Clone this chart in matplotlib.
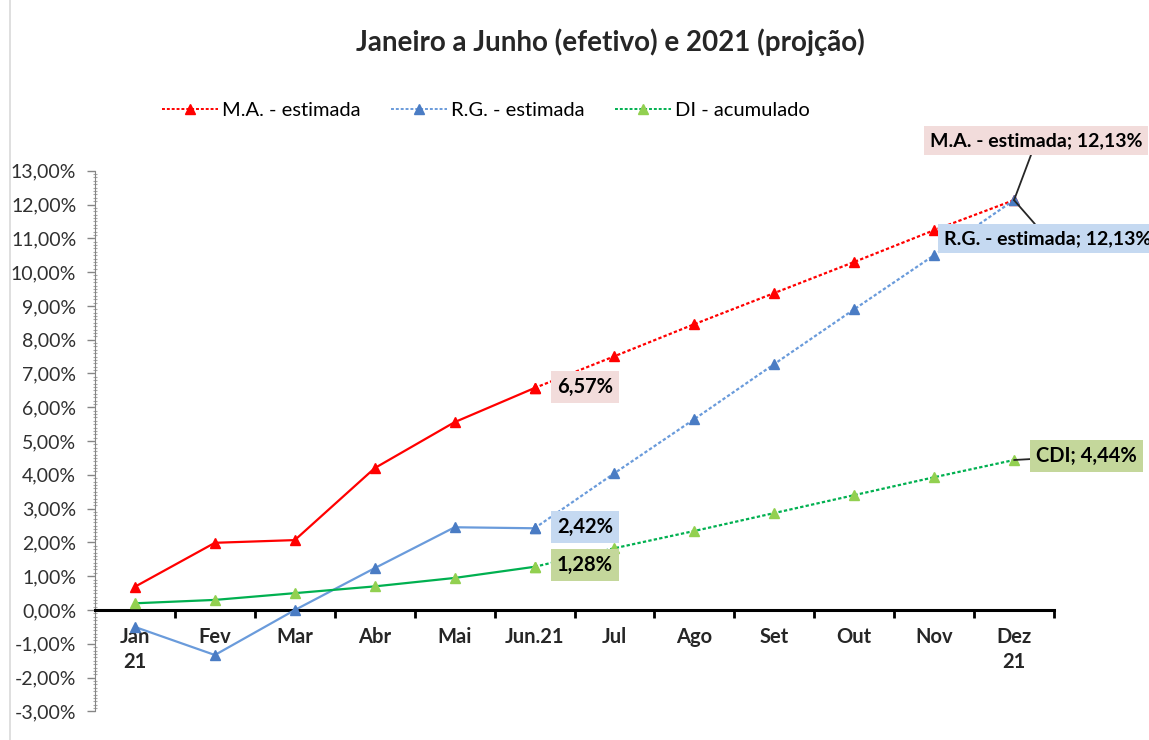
import matplotlib
matplotlib.use("Agg")
import matplotlib.pyplot as plt
from matplotlib.lines import Line2D
from matplotlib.patches import Rectangle
from matplotlib.ticker import FuncFormatter, MultipleLocator

plt.rcParams['font.family'] = ['Lato', 'DejaVu Sans']

# dados (% acumulado)
meses = ['Jan\n21', 'Fev', 'Mar', 'Abr', 'Mai', 'Jun.21', 'Jul', 'Ago', 'Set', 'Out', 'Nov', 'Dez\n21']
ma_estimada = [0.69, 1.99, 2.07, 4.20, 5.56, 6.57, 7.51, 8.46, 9.38, 10.30, 11.24, 12.13]
rg_estimada = [-0.50, -1.33, 0.00, 1.24, 2.45, 2.42, 4.05, 5.65, 7.28, 8.90, 10.50, 12.13]
di_acumulado = [0.20, 0.30, 0.50, 0.70, 0.95, 1.28, 1.83, 2.34, 2.87, 3.40, 3.93, 4.44]
ultimo_efetivo = 5  # Jun.21

series = [
    ('M.A. - estimada', ma_estimada, '#FF0000', '#FF0000', '#F2DCDB'),
    ('R.G. - estimada', rg_estimada, '#6A9BDB', '#4A7CC4', '#C5D9F1'),
    ('DI - acumulado', di_acumulado, '#00B050', '#92D050', '#C4D79B'),
]


def pct(v):
    return f'{v:.2f}%'.replace('.', ',')


fig = plt.figure(figsize=(11.49, 7.40), dpi=100)
ax = fig.add_axes([95 / 1149, 0.0386, (1054 - 95) / 1149, 0.7693 - 0.0386])

x = list(range(len(meses)))
k = ultimo_efetivo
handles = []
for nome, vals, cor_linha, cor_marc, _ in series:
    # efetivo (linha cheia)
    ax.plot(x[:k + 1], vals[:k + 1], color=cor_linha, lw=1.6, marker='^', ms=7,
            mfc=cor_marc, mec=cor_marc, zorder=3)
    # projeção (pontilhado)
    ax.plot(x[k:], vals[k:], color=cor_linha, lw=1.6, ls=(0, (1.5, 1)), marker='^', ms=7,
            mfc=cor_marc, mec=cor_marc, zorder=3)
    handles.append(Line2D([], [], color=cor_linha, lw=1.4, ls=(0, (1.5, 1)), marker='^', ms=7,
                          mfc=cor_marc, mec=cor_marc, label=nome))

ax.set_xlim(-0.5, 11.5)
ax.set_ylim(-3, 13)

# eixo y
ax.yaxis.set_major_locator(MultipleLocator(1))
ax.yaxis.set_minor_locator(MultipleLocator(0.1))
ax.yaxis.set_major_formatter(FuncFormatter(lambda v, p: pct(v)))
ax.tick_params(axis='y', which='major', length=6, width=1, color='#868686',
               labelsize=14, labelcolor='#303030', pad=7.5)
ax.tick_params(axis='y', which='minor', length=3, width=0.8, color='#A6A6A6', direction='inout')

# eixo x em zero
ax.spines['bottom'].set_position(('data', 0))
ax.spines['bottom'].set_color('black')
ax.spines['bottom'].set_linewidth(2.2)
ax.spines['left'].set_color('#868686')
ax.spines['top'].set_visible(False)
ax.spines['right'].set_visible(False)
ax.set_xticks(x)
ax.set_xticklabels(meses, fontweight='bold', linespacing=1.3)
ax.set_xticks([i - 0.5 for i in range(1, len(meses) + 1)], minor=True)
ax.tick_params(axis='x', which='major', length=0, pad=12.5, labelsize=14.5, labelcolor='#262626')
ax.tick_params(axis='x', which='minor', length=6, width=2, color='black')

# rótulos de dados
for i, (nome, vals, _, _, cor_caixa) in enumerate(series):
    ax.text(k + 0.28, vals[k] + 0.04, pct(vals[k]),
            ha='left', va='center', fontsize=14.5, fontweight='bold', color='black',
            bbox=dict(boxstyle='square,pad=0.3', fc=cor_caixa, ec='none'), zorder=4)

n = len(meses) - 1
ax.annotate(f'M.A. - estimada; {pct(ma_estimada[n])}', xy=(n, ma_estimada[n]),
            xytext=(9.95, 13.89), ha='left', va='center', fontsize=14, fontweight='bold',
            bbox=dict(boxstyle='square,pad=0.3', fc='#F2DCDB', ec='none'),
            arrowprops=dict(arrowstyle='-', color='#262626', lw=1.3, shrinkA=0, shrinkB=0),
            annotation_clip=False, zorder=4)
ax.annotate(f'R.G. - estimada; {pct(rg_estimada[n])}', xy=(n, rg_estimada[n]),
            xytext=(10.12, 11.0), ha='left', va='center', fontsize=14, fontweight='bold',
            bbox=dict(boxstyle='square,pad=0.3', fc='#C5D9F1', ec='none'),
            arrowprops=dict(arrowstyle='-', color='#262626', lw=1.3, shrinkA=0, shrinkB=0),
            annotation_clip=False, zorder=4)
ax.annotate(f'CDI; {pct(di_acumulado[n])}', xy=(n, di_acumulado[n]),
            xytext=(11.28, 4.56), ha='left', va='center', fontsize=14.5, fontweight='bold',
            bbox=dict(boxstyle='square,pad=0.3', fc='#C4D79B', ec='none'),
            arrowprops=dict(arrowstyle='-', color='#262626', lw=1.3, shrinkA=0, shrinkB=0),
            annotation_clip=False, zorder=4)

fig.legend(handles=handles, loc='center', bbox_to_anchor=(0.423, 0.851), ncol=3,
           frameon=False, fontsize=14.5, handlelength=2.8, columnspacing=1.5, handletextpad=0.2)

fig.suptitle('Janeiro a Junho (efetivo) e 2021 (projção)', x=0.531, y=0.943,
             fontsize=20, fontweight='bold', color='#262626', va='center')

# borda do gráfico
fig.patches.append(Rectangle((10 / 1149, -0.02), 1.1, 1.04, transform=fig.transFigure,
                             fill=False, ec='#D9D9D9', lw=1.2))

fig.savefig('out.png', dpi=100, facecolor='white')
